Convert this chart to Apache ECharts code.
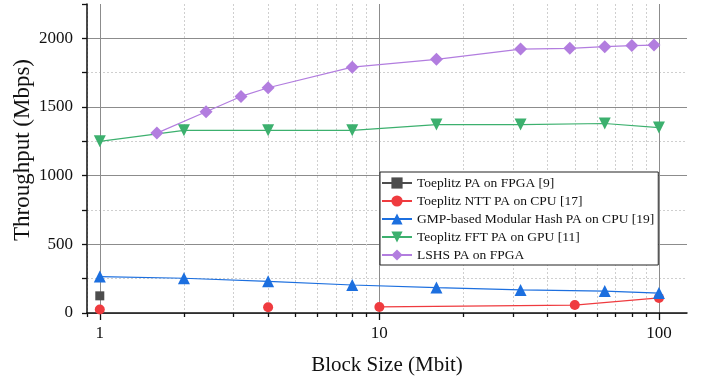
<!DOCTYPE html>
<html>
<head>
<meta charset="utf-8">
<script src="https://cdn.jsdelivr.net/npm/echarts@6/dist/echarts.min.js"></script>
<style>html,body{margin:0;padding:0;background:#fff}#c{width:705px;height:381px}</style>
</head>
<body>
<div id="c"></div>
<script>
// ---- data ----
const seriesNames = [
  'Toeplitz PA on FPGA [9]',
  'Toeplitz NTT PA on CPU [17]',
  'GMP-based Modular Hash PA on CPU [19]',
  'Teoplitz FFT PA on GPU [11]',
  'LSHS PA on FPGA'
];
const fpgaX = [1];
const fpgaY = [125];
const nttX = [1, 4, 10, 50, 100];
const nttY = [25, 42, 44, 58, 110];
const gmpX = [1, 2, 4, 8, 16, 32, 64, 100];
const gmpY = [265, 253, 231, 204, 185, 168, 160, 145];
const fftX = [1, 2, 4, 8, 16, 32, 64, 100];
const fftY = [1250, 1330, 1330, 1330, 1372, 1372, 1380, 1350];
const lshsX = [1.6, 2.4, 3.2, 4, 8, 16, 32, 48, 64, 80, 96];
const lshsY = [1310, 1465, 1577, 1640, 1790, 1847, 1922, 1927, 1939, 1947, 1951];
const xMajorTicks = [1, 10, 100];
const xMinorTicks = [0.9, 2, 3, 4, 5, 6, 7, 8, 9, 20, 30, 40, 50, 60, 70, 80, 90];
const yLabelTicks = [0, 500, 1000, 1500, 2000];

const zip = (xs, ys) => xs.map((x, i) => [x, ys[i]]);
const FONT = '"Liberation Serif","Times New Roman","DejaVu Serif",serif';
const colors = ['#4d4d4d', '#ef3b3f', '#1c6fdf', '#3cb06e', '#b27ddf'];

function lineSeries(name, data, color, symbol, size, rotate) {
  return {
    name: name, type: 'line', data: data,
    xAxisIndex: 0, yAxisIndex: 0,
    symbol: symbol, symbolSize: size, symbolRotate: rotate || 0,
    showAllSymbol: true,
    lineStyle: { color: color, width: 1.2 },
    itemStyle: { color: color },
    emphasis: { disabled: true },
    animation: false, clip: false
  };
}

const chart = echarts.init(document.getElementById('c'), null, { renderer: 'canvas' });
const option = {
  animation: false,
  color: colors,
  grid: { left: 87, right: 18, top: 4, bottom: 68, containLabel: false, outerBoundsMode: 'none' },
  legend: {
    orient: 'vertical', left: 380, top: 172,
    padding: [4, 4, 3, 1], itemGap: 4, itemWidth: 30, itemHeight: 14,
    backgroundColor: '#fff', borderColor: '#222', borderWidth: 1,
    textStyle: { fontFamily: FONT, fontSize: 13.5, color: '#111' },
    data: seriesNames
  },
  xAxis: [
    {
      type: 'log', logBase: 10, min: 0.9, max: 126, position: 'bottom',
      name: 'Block Size (Mbit)', nameLocation: 'middle', nameGap: 42, nameMoveOverlap: false,
      nameTextStyle: { fontFamily: FONT, fontSize: 21, color: '#111' },
      axisLine: { show: true, onZero: false, lineStyle: { color: '#111', width: 1.5 } },
      axisTick: { show: true, customValues: xMajorTicks, length: 7, lineStyle: { color: '#111', width: 1.3 } },
      axisLabel: { customValues: xMajorTicks, fontFamily: FONT, fontSize: 17, color: '#111', margin: 12 },
      splitLine: { show: true, lineStyle: { color: '#8c8c8c', width: 1 } },
      minorTick: { show: false }
    },
    {
      type: 'log', logBase: 10, min: 0.9, max: 126, position: 'bottom',
      axisLine: { show: false },
      axisTick: { show: true, customValues: xMinorTicks, length: 4, lineStyle: { color: '#111', width: 1.3 } },
      axisLabel: { show: false },
      splitLine: { show: true, lineStyle: { color: '#cfcfcf', width: 1, type: [2, 2] } }
    }
  ],
  yAxis: [
    {
      type: 'value', min: 0, max: 2250, interval: 250, position: 'left',
      name: 'Throughput (Mbps)', nameLocation: 'middle', nameGap: 53, nameMoveOverlap: false,
      nameTextStyle: { fontFamily: FONT, fontSize: 23, color: '#111', padding: [0, 0, 0, 17] },
      axisLine: { show: true, onZero: false, lineStyle: { color: '#111', width: 1.5 } },
      axisTick: { show: true, length: 5, lineStyle: { color: '#111', width: 1.3 } },
      axisLabel: {
        fontFamily: FONT, fontSize: 17, color: '#111', margin: 14,
        formatter: v => (yLabelTicks.indexOf(v) >= 0 ? String(v) : '')
      },
      splitLine: { show: true, showMaxLine: false, lineStyle: { color: '#cfcfcf', width: 1, type: [2, 2] } }
    },
    {
      type: 'value', min: 0, max: 2250, interval: 500, position: 'left',
      axisLine: { show: false }, axisTick: { show: false }, axisLabel: { show: false },
      splitLine: { show: true, showMaxLine: false, lineStyle: { color: '#8c8c8c', width: 1 } }
    }
  ],
  series: [
    lineSeries(seriesNames[0], zip(fpgaX, fpgaY), colors[0], 'rect', 9),
    lineSeries(seriesNames[1], zip(nttX.slice(0, 1), nttY.slice(0, 1)), colors[1], 'circle', 10),
    lineSeries(seriesNames[1], zip(nttX.slice(1, 2), nttY.slice(1, 2)), colors[1], 'circle', 10),
    lineSeries(seriesNames[1], zip(nttX.slice(2), nttY.slice(2)), colors[1], 'circle', 10),
    lineSeries(seriesNames[2], zip(gmpX, gmpY), colors[2], 'triangle', 12),
    lineSeries(seriesNames[3], zip(fftX, fftY), colors[3], 'triangle', 12, 180),
    lineSeries(seriesNames[4], zip(lshsX, lshsY), colors[4], 'diamond', 13)
  ]
};
chart.setOption(option);
</script>
</body>
</html>
